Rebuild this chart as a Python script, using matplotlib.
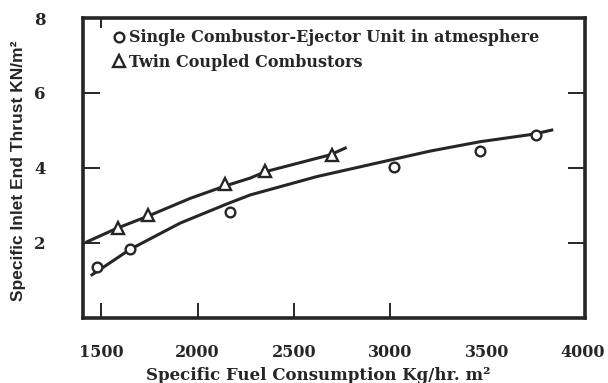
import matplotlib.pyplot as plt

# measured points
single_fuel = [1478, 1650, 2169, 3020, 3464, 3755]
single_thrust = [1.37, 1.83, 2.82, 4.03, 4.46, 4.88]
twin_fuel = [1585, 1742, 2143, 2351, 2697]
twin_thrust = [2.39, 2.75, 3.57, 3.92, 4.35]

# hand-drawn trend lines
single_fit_x = [1452, 1650, 1910, 2152, 2273, 2619, 2999, 3207, 3466, 3742, 3838]
single_fit_y = [1.15, 1.83, 2.53, 3.04, 3.28, 3.77, 4.21, 4.45, 4.70, 4.90, 5.01]
twin_fit_x = [1426, 1581, 1745, 1962, 2143, 2273, 2351, 2688, 2766]
twin_fit_y = [2.03, 2.39, 2.72, 3.19, 3.52, 3.73, 3.90, 4.35, 4.53]

x_ticks = [1500, 2000, 2500, 3000, 3500, 4000]
y_ticks = [2, 4, 6, 8]

ink = '#262626'
serif = 'DejaVu Serif'

fig = plt.figure(figsize=(6.08, 3.83), dpi=100)
ax = fig.add_axes([0.1365, 0.170, 0.8255, 0.783])

ax.plot(single_fit_x, single_fit_y, color=ink, lw=2.2)
ax.plot(twin_fit_x, twin_fit_y, color=ink, lw=2.2)
ax.plot(single_fuel, single_thrust, 'o', ms=7, mfc='white', mec=ink, mew=1.7,
        label='Single Combustor-Ejector Unit in atmesphere')
ax.plot(twin_fuel, twin_thrust, '^', ms=8, mfc='white', mec=ink, mew=1.7,
        label='Twin Coupled Combustors')

ax.set_xlim(1405, 4010)
ax.set_ylim(0, 8)
ax.set_xticks(x_ticks)
ax.set_yticks(y_ticks)
ax.set_xticklabels([str(v) for v in x_ticks], fontfamily=serif, fontweight='bold',
                   fontsize=11.5, color=ink)
ax.set_yticklabels([str(v) for v in y_ticks], fontfamily=serif, fontweight='bold',
                   fontsize=12, color=ink)

for s in ax.spines.values():
    s.set_linewidth(2.6)
    s.set_color(ink)

ax.tick_params(axis='y', direction='in', length=12, width=1.4, color=ink,
               pad=27, right=True)
ax.tick_params(axis='x', direction='in', length=11, width=1.4, color=ink,
               pad=19, top=True)
for i, t in enumerate(ax.xaxis.get_major_ticks()):
    if i >= 4:
        t.tick1line.set_visible(False)
    if i > 0:
        t.tick2line.set_visible(False)
    else:
        t.tick2line.set_markersize(7)

ax.set_xlabel('Specific Fuel Consumption Kg/hr. m²', fontfamily=serif,
              fontweight='bold', fontsize=12, color=ink)
ax.xaxis.set_label_coords(0.468, -0.165)
ax.set_ylabel('Specific Inlet End Thrust KN/m²', fontfamily='Liberation Sans',
              fontweight='bold', fontsize=12.5, color=ink)
ax.yaxis.set_label_coords(-0.114, 0.49)

leg = ax.legend(loc='upper left', bbox_to_anchor=(0.035, 1.01), frameon=False,
                handlelength=0.5, handletextpad=0.35, labelspacing=0.45,
                prop={'family': serif, 'weight': 'bold', 'size': 11.5})
for txt in leg.get_texts():
    txt.set_color(ink)

fig.savefig('out.png', dpi=100, facecolor='white')
